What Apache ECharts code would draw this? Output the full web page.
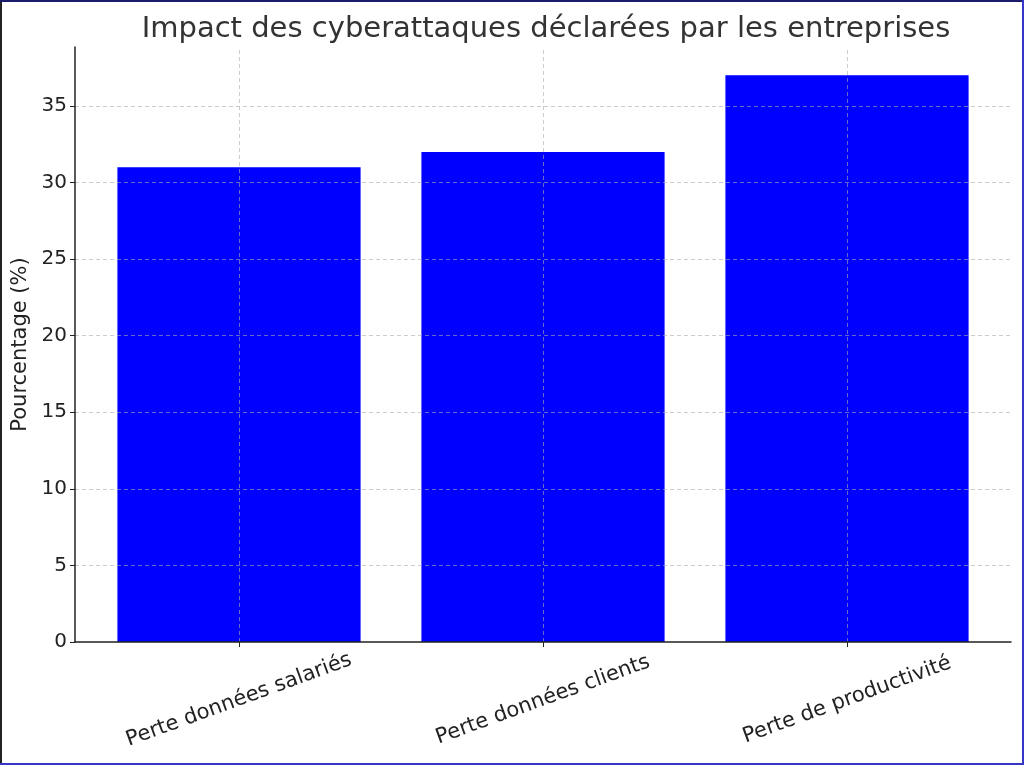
<!DOCTYPE html>
<html><head><meta charset="utf-8">
<script src="https://cdn.jsdelivr.net/npm/echarts@6/dist/echarts.min.js"></script>
<style>html,body{margin:0;padding:0;background:#fff}#c{width:1024px;height:765px}</style>
</head><body><div id="c"></div>
<script>
const categories = ['Perte données salariés', 'Perte données clients', 'Perte de productivité'];
const values = [31, 32, 37];
const yTicks = [0, 5, 10, 15, 20, 25, 30, 35];
const titleText = 'Impact des cyberattaques déclarées par les entreprises';
const yName = 'Pourcentage (%)';

const chart = echarts.init(document.getElementById('c'), null, {renderer: 'canvas'});
const font = 'DejaVu Sans';
const yMax = 38.85;
const gridColor = 'rgba(170,170,170,0.6)';
const dash = [4, 3];
chart.setOption({
  animation: false,
  backgroundColor: '#fff',
  textStyle: {fontFamily: font},
  title: {
    text: titleText, left: 541, top: 10, textAlign: 'center',
    textStyle: {fontFamily: font, fontSize: 29, fontWeight: 'normal', color: '#333'}
  },
  grid: [
    {left: 75, right: 13, top: 47, bottom: 123},
    {left: 87, right: 25, top: 47, bottom: 123}
  ],
  xAxis: [
    {
      type: 'category', data: categories, gridIndex: 0, z: 6,
      axisLine: {show: true, lineStyle: {color: '#222', width: 1.5}},
      axisTick: {show: false}, axisLabel: {show: false}, splitLine: {show: false}
    },
    {
      type: 'category', data: categories, gridIndex: 1, z: 6,
      axisLine: {show: false},
      axisTick: {show: true, alignWithLabel: true, length: 5, lineStyle: {color: '#222', width: 1}},
      axisLabel: {rotate: 20, align: 'center', verticalAlign: 'middle', margin: 58, fontSize: 21, color: '#222', fontFamily: font, interval: 0},
      splitLine: {show: false}
    }
  ],
  yAxis: [
    {
      type: 'value', min: 0, max: yMax, interval: 5, gridIndex: 0, z: 6,
      name: yName, nameLocation: 'middle', nameGap: 40,
      nameTextStyle: {fontSize: 21, color: '#222', fontFamily: font},
      axisLine: {show: true, lineStyle: {color: '#222', width: 1.5}},
      axisTick: {show: true, length: 5, lineStyle: {color: '#222'}},
      axisLabel: {fontSize: 20, color: '#222', fontFamily: font, margin: 8,
        formatter: v => yTicks.includes(v) ? String(v) : '', showMaxLabel: false},
      splitLine: {show: true, showMinLine: false, showMaxLine: false, lineStyle: {color: gridColor, type: dash, width: 1}}
    },
    {
      type: 'value', min: 0, max: yMax, interval: 5, gridIndex: 1, show: false,
      splitLine: {show: false}
    }
  ],
  series: [{
    type: 'bar', data: values, barWidth: '80%', z: 2,
    xAxisIndex: 1, yAxisIndex: 1,
    itemStyle: {color: '#0000ff'},
    markLine: {
      silent: true, symbol: 'none', z: 5,
      label: {show: false},
      lineStyle: {color: gridColor, type: dash, width: 1},
      data: categories.map(c => ({xAxis: c}))
    }
  }],
  graphic: [
    {type: 'line', shape: {x1: 1, y1: 0, x2: 1, y2: 765}, style: {stroke: '#222', lineWidth: 2}},
    {type: 'line', shape: {x1: 0, y1: 1, x2: 1024, y2: 1}, style: {stroke: '#1c1c6a', lineWidth: 2}},
    {type: 'line', shape: {x1: 1023, y1: 0, x2: 1023, y2: 765}, style: {stroke: '#3636c8', lineWidth: 2}},
    {type: 'line', shape: {x1: 0, y1: 764, x2: 1024, y2: 764}, style: {stroke: '#3636c8', lineWidth: 2}}
  ]
});
</script></body></html>
